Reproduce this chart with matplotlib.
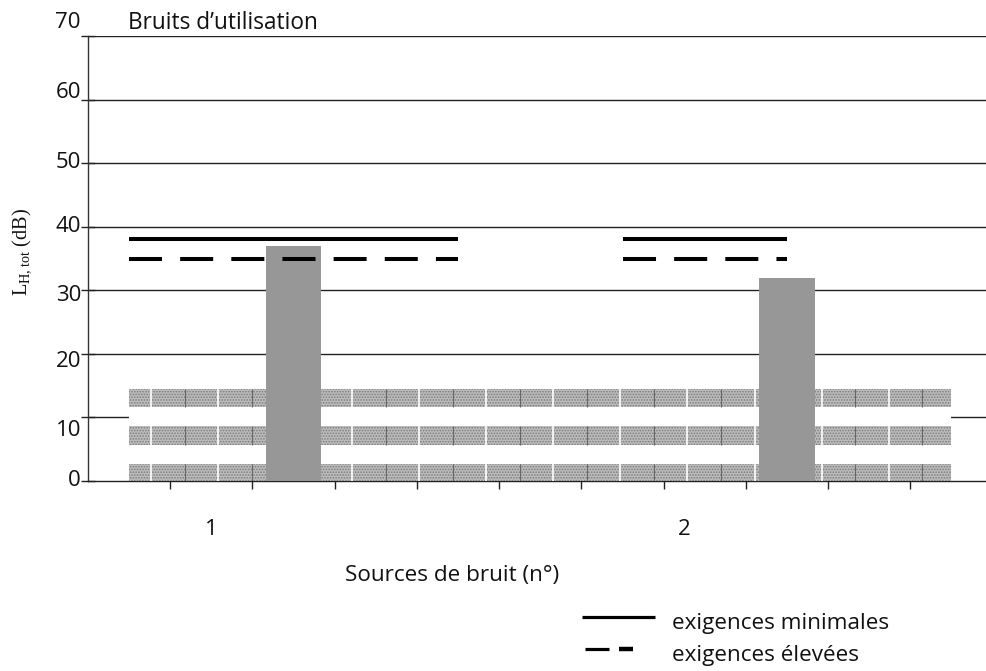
import matplotlib
matplotlib.use('Agg')
import matplotlib.pyplot as plt
from matplotlib.lines import Line2D
import matplotlib.transforms as mtransforms
import numpy as np

# data
sources = ['1', '2']
source_pos = [1.5, 7.25]
bar_pos = [2.5, 8.5]
bar_values = [37, 32]
req_min = [38, 38]
req_high = [35, 35]
req_start = [0.5, 6.5]
req_end = [4.5, 8.5]
band_low = [0, 5.7, 11.6]
band_high = [2.7, 8.6, 14.5]
yticks = [0, 10, 20, 30, 40, 50, 60, 70]
xticks = [1, 2, 3, 4, 5, 6, 7, 8, 9, 10]

# label nudges in pixels (the original labels drift off their ticks)
ylab_shift = [0, -13, -8, -5, 0, 1, 7, 13]

plt.rcParams['font.family'] = ['Open Sans', 'DejaVu Sans']
plt.rcParams['mathtext.fontset'] = 'custom'
plt.rcParams['mathtext.rm'] = 'Liberation Serif'
plt.rcParams['hatch.linewidth'] = 0.8


def main():
    fig = plt.figure(figsize=(9.86, 6.71), dpi=100)
    ax = fig.add_axes([88 / 986, 1 - 481 / 671, (986 - 88) / 986, (481 - 36) / 671])
    ax.set_xlim(0, 10.92)
    ax.set_ylim(0, 70)

    for s in ['top', 'right']:
        ax.spines[s].set_visible(False)
    ax.spines['left'].set_color('#333333')
    ax.spines['bottom'].set_color('#222222')
    ax.spines['left'].set_linewidth(1)
    ax.spines['bottom'].set_linewidth(1)

    # horizontal grid
    for v in yticks[1:]:
        ax.axhline(v, color='#222222', lw=1, zorder=1)

    # white patch behind the textured bands hides the 10 line
    ax.fill_between([0.5, 10.5], 0, band_high[-1] + 0.5, color='white', lw=0, zorder=2)

    # textured bands
    for lo, hi in zip(band_low, band_high):
        ax.bar(5.5, hi - lo, width=10.0, bottom=lo, color='#bdbdbd',
               edgecolor='#7a7a7a', hatch='......', linewidth=0, zorder=3)
    # vertical seams of the texture
    seams = np.arange(0.5 + 0.27, 10.5, 0.815)
    for lo, hi in zip(band_low, band_high):
        ax.vlines(seams, lo, hi, color='white', lw=1.2, zorder=4)
        ax.vlines(seams + 0.41, lo, hi, color='#666666', lw=0.8, zorder=4)

    # measured levels
    ax.bar(bar_pos, bar_values, width=0.67, color='#979797', zorder=5)

    # requirements
    for x0, x1, vmin, vhigh in zip(req_start, req_end, req_min, req_high):
        ax.plot([x0, x1], [vmin, vmin], color='black', lw=2.9,
                solid_capstyle='butt', zorder=6)
        ax.plot([x0, x1], [vhigh, vhigh], color='black', lw=2.9,
                dashes=(8.2, 4.5), dash_capstyle='butt', zorder=6)

    # ticks
    ax.set_xticks(xticks)
    ax.set_xticklabels([])
    ax.tick_params(axis='x', direction='inout', length=11, width=1, color='#222222')
    ax.set_yticks(yticks)
    ax.set_yticklabels([])
    ax.tick_params(axis='y', direction='inout', length=10, width=1, color='#222222')

    for v, dy in zip(yticks, ylab_shift):
        off = mtransforms.ScaledTranslation(-7 / 100, dy / 100, fig.dpi_scale_trans)
        ax.text(0, v, str(v), ha='right', va='center', fontsize=16,
                color='#111111', transform=ax.transData + off)

    for x, s in zip(source_pos, sources):
        ax.text(x, -0.11, s, ha='center', va='center', fontsize=16,
                color='#111111', transform=ax.get_xaxis_transform())

    fig.text(128 / 986, 1 - 23 / 671, 'Bruits d’utilisation', ha='left',
             va='center', fontsize=16.3, color='#111111')
    fig.text(452 / 986, 1 - 575 / 671, 'Sources de bruit (n°)', ha='center',
             va='center', fontsize=16.2, color='#111111')
    fig.text(22 / 986, 1 - 252 / 671, r'L$_{\mathrm{H,tot}}$ (dB)', rotation=90,
             ha='center', va='center', fontsize=14.7, family='Liberation Serif',
             color='#111111')

    # legend drawn by hand
    fig.add_artist(Line2D([582 / 986, 655 / 986], [1 - 617 / 671, 1 - 617 / 671],
                          color='black', lw=2.3, solid_capstyle='butt'))
    fig.add_artist(Line2D([585 / 986, 609 / 986], [1 - 649 / 671, 1 - 649 / 671],
                          color='black', lw=2.3, solid_capstyle='butt'))
    fig.add_artist(Line2D([619 / 986, 633 / 986], [1 - 649 / 671, 1 - 649 / 671],
                          color='black', lw=3.2, solid_capstyle='butt'))
    fig.text(672 / 986, 1 - 623 / 671, 'exigences minimales', ha='left',
             va='center', fontsize=16.2, color='#111111')
    fig.text(672 / 986, 1 - 656 / 671, 'exigences élevées', ha='left',
             va='center', fontsize=16.2, color='#111111')

    fig.savefig('out.png', dpi=100)


if __name__ == '__main__':
    main()
